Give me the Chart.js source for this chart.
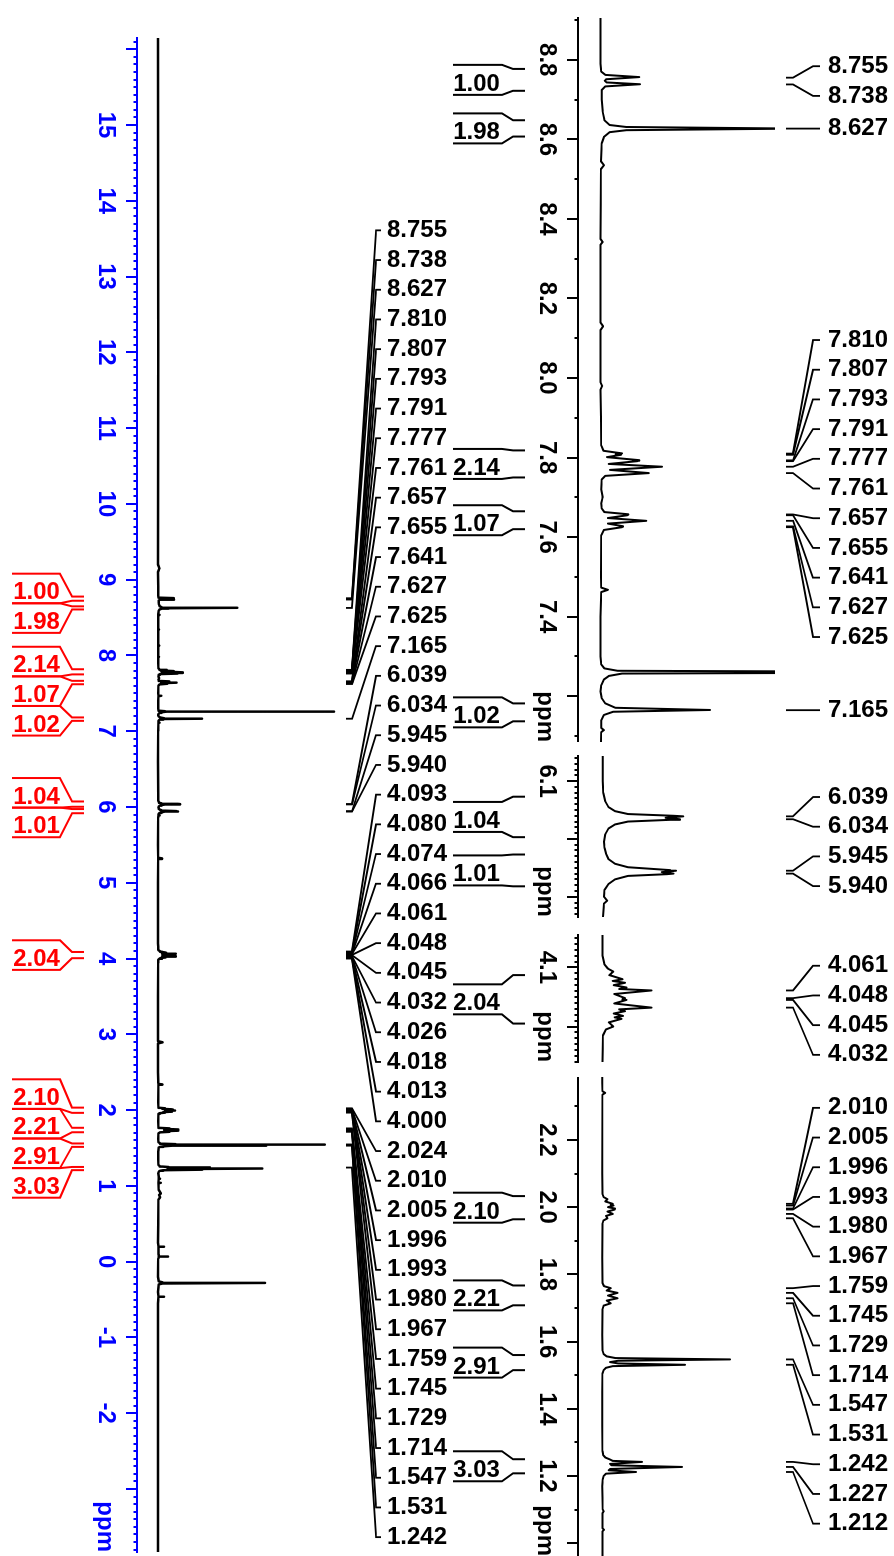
<!DOCTYPE html>
<html>
<head>
<meta charset="UTF-8">
<title>1H NMR spectrum</title>
<script src="https://cdn.jsdelivr.net/npm/chart.js@4/dist/chart.umd.min.js"></script>
<style>
  html, body { margin: 0; padding: 0; overflow: hidden; background: #fff; }
  /* the plot is laid out like a normal NMR page (ppm left->right) and turned 90deg clockwise */
  #stage {
    position: absolute; left: 0; top: 0; width: 1556px; height: 894px;
    transform-origin: 0 0; transform: translate(894px, 0) rotate(90deg);
  }
  #stage canvas { position: absolute; top: 0; }
</style>
</head>
<body>
<div id="stage">
  <canvas id="full" width="1556" height="894" style="left:0px"></canvas>
  <canvas id="zoomA" width="728" height="445" style="left:14px"></canvas>
  <canvas id="zoomB" width="168" height="445" style="left:752px"></canvas>
  <canvas id="zoomC" width="136" height="445" style="left:932px"></canvas>
  <canvas id="zoomD" width="479" height="445" style="left:1077px"></canvas>
</div>
<script>
// trace points [shift (ppm), intensity], residual CHCl3 at 7.26 = 100
var spectrum = [
  [16.148, 0], [12.0, 0.1], [9.2, 0], [9.15, 0.8], [9.1, 0],
  [8.905, 0.1], [8.79, 0.1], [8.770, 0.3], [8.762, 1.2], [8.7565, 8.9], [8.751, 1.4], [8.747, 1.1],
  [8.743, 1.5], [8.7385, 9.1], [8.733, 1.2], [8.724, 0.4], [8.70, 0.4], [8.67, 0.6], [8.648, 1.0],
  [8.636, 2.2], [8.631, 6], [8.627, 45], [8.623, 6], [8.618, 2.2], [8.606, 0.9], [8.59, 0.4],
  [8.545, 0.2], [8.535, 0.9], [8.525, 0.2], [8.35, 0.1], [8.342, 0.6], [8.335, 0.1],
  [8.14, 0.1], [8.13, 0.7], [8.12, 0.1], [7.99, 0.1], [7.98, 0.5], [7.97, 0.1],
  [7.90, 0.2], [7.83, 0.3], [7.817, 0.8], [7.8105, 5.0], [7.8085, 3.6], [7.807, 4.8], [7.801, 1.6],
  [7.7935, 8.9], [7.792, 7.8], [7.791, 8.5], [7.784, 2.0], [7.777, 14.1], [7.769, 2.3], [7.761, 11.1],
  [7.754, 1.2], [7.745, 0.4], [7.72, 0.3], [7.70, 0.6], [7.685, 0.3], [7.672, 0.4], [7.663, 1.0],
  [7.6575, 6.4], [7.6562, 5.6], [7.655, 6.2], [7.648, 1.8], [7.641, 10.5], [7.634, 1.8], [7.6275, 5.2],
  [7.6262, 4.6], [7.625, 5.0], [7.618, 0.9], [7.605, 0.3], [7.50, 0.2], [7.473, 0.3], [7.4675, 1.8],
  [7.462, 0.3], [7.40, 0.1], [7.30, 0.1], [7.28, 0.3], [7.27, 1.0], [7.264, 4.0], [7.2605, 100],
  [7.257, 5.0], [7.251, 2.0], [7.242, 0.9], [7.228, 0.3], [7.212, 0.1], [7.195, 0.4], [7.182, 1.2],
  [7.171, 3.5], [7.1655, 25], [7.161, 3.0], [7.153, 0.9], [7.14, 0.3], [7.12, 0.3], [7.115, 0.9],
  [7.11, 0.3], [7.00, 0.1], [6.60, 0],
  [6.1436, 0.1], [6.10, 0.1], [6.08, 0.2], [6.065, 0.5], [6.055, 1.0], [6.048, 2.0], [6.043, 4.0],
  [6.040, 11.0], [6.039, 12.5], [6.0365, 9.8], [6.034, 12.0], [6.033, 10.5], [6.030, 4.0], [6.025, 2.0],
  [6.018, 1.0], [6.008, 0.5], [5.995, 0.3], [5.985, 0.4], [5.975, 0.6], [5.965, 1.0], [5.957, 2.0],
  [5.951, 4.0], [5.946, 10.5], [5.945, 11.4], [5.9425, 9.2], [5.940, 11.0], [5.939, 10.0], [5.936, 4.0],
  [5.930, 2.0], [5.922, 1.0], [5.912, 0.4], [5.90, 0.3], [5.893, 0.8], [5.888, 0.3], [5.86, 0.1],
  [5.50, 0], [5.33, 0.2], [5.322, 2.3], [5.314, 0.2], [5.0, 0],
  [4.20, 0], [4.155, 0.1], [4.12, 0.1], [4.105, 0.5], [4.098, 1.2], [4.093, 2.3], [4.087, 1.5],
  [4.080, 4.2], [4.077, 2.2], [4.074, 4.7], [4.070, 2.4], [4.066, 5.0], [4.0635, 3.5], [4.061, 10.1],
  [4.055, 2.5], [4.048, 4.7], [4.0465, 4.2], [4.045, 5.0], [4.039, 2.5], [4.032, 10.1], [4.029, 3.5],
  [4.026, 4.7], [4.022, 2.4], [4.018, 4.3], [4.0155, 2.6], [4.013, 4.0], [4.007, 1.4], [4.000, 2.3],
  [3.995, 0.8], [3.985, 0.2], [3.94, 0.1],
  [3.50, 0], [2.91, 0], [2.895, 2.6], [2.88, 0], [2.50, 0],
  [2.3874, 0.1], [2.37, 0.1], [2.345, 0.3], [2.34, 2.4], [2.335, 0.3], [2.10, 0.1], [2.04, 0.3],
  [2.030, 1.2], [2.024, 4.0], [2.017, 2.5], [2.010, 8.0], [2.0075, 6.5], [2.005, 8.5], [2.000, 4.5],
  [1.996, 9.6], [1.9945, 8.8], [1.993, 9.4], [1.987, 4.0], [1.980, 8.0], [1.974, 3.0], [1.967, 4.0],
  [1.960, 1.0], [1.950, 0.3], [1.85, 0.1], [1.775, 0.3], [1.765, 1.5], [1.759, 6.5], [1.752, 3.5],
  [1.745, 11.5], [1.737, 4.5], [1.729, 11.5], [1.722, 3.5], [1.714, 6.5], [1.707, 1.2], [1.695, 0.3],
  [1.62, 0.2], [1.575, 0.3], [1.563, 1.2], [1.556, 3.5], [1.551, 10], [1.547, 94.8], [1.543, 12],
  [1.539, 6], [1.535, 12], [1.531, 61.5], [1.527, 8], [1.522, 3], [1.515, 1.2], [1.505, 0.4],
  [1.45, 0.2], [1.35, 0.2], [1.275, 0.3], [1.262, 1.0], [1.255, 2.5], [1.249, 6], [1.245, 8],
  [1.242, 29.6], [1.236, 6], [1.232, 7], [1.227, 59.3], [1.221, 6], [1.217, 5], [1.212, 25.2],
  [1.207, 3], [1.200, 1.2], [1.19, 0.5], [1.17, 0.2], [1.10, 0.6], [1.095, 1.2], [1.09, 0.4],
  [1.045, 0.3], [1.04, 1.5], [1.035, 0.3], [0.95, 0.4], [0.90, 1.6], [0.88, 0.6], [0.85, 1.2],
  [0.82, 0.3], [0.50, 0.1],
  [0.25, 0], [0.205, 0.3], [0.20, 3.4], [0.195, 0.3], [0.10, 0.3], [0.075, 0.6], [0.07, 5.7],
  [0.065, 0.6], [0.04, 0.2], [-0.20, 0], [-0.26, 0.4], [-0.272, 2.5], [-0.28, 60.8], [-0.288, 2.5],
  [-0.30, 0.4], [-0.40, 0], [-0.455, 0.3], [-0.46, 3.4], [-0.465, 0.3], [-0.55, 0], [-3.831, 0]
];

// peak picking, full spectrum (middle column)
var peakLabels = [8.755, 8.738, 8.627, 7.810, 7.807, 7.793, 7.791, 7.777, 7.761, 7.657, 7.655,
  7.641, 7.627, 7.625, 7.165, 6.039, 6.034, 5.945, 5.940, 4.093, 4.080, 4.074, 4.066, 4.061,
  4.048, 4.045, 4.032, 4.026, 4.018, 4.013, 4.000, 2.024, 2.010, 2.005, 1.996, 1.993, 1.980,
  1.967, 1.759, 1.745, 1.729, 1.714, 1.547, 1.531, 1.242];

// peak picking of the expansions (right column)
var peaksA = [8.755, 8.738, 8.627, 7.810, 7.807, 7.793, 7.791, 7.777, 7.761, 7.657, 7.655,
  7.641, 7.627, 7.625, 7.165];
var peaksB = [6.039, 6.034, 5.945, 5.940];
var peaksC = [4.061, 4.048, 4.045, 4.032];
var peaksD = [2.010, 2.005, 1.996, 1.993, 1.980, 1.967, 1.759, 1.745, 1.729, 1.714, 1.547,
  1.531, 1.242, 1.227, 1.212];

// integrals
var integralValues = ['1.00', '1.98', '2.14', '1.07', '1.02', '1.04', '1.01', '2.04', '2.10', '2.21', '2.91', '3.03'];
var integralFrom = [8.777, 8.648, 7.818, 7.665, 7.182, 6.073, 5.973, 4.087, 2.033, 1.767, 1.560, 1.250];
var integralTo = [8.722, 8.607, 7.750, 7.620, 7.137, 6.003, 5.918, 4.005, 1.964, 1.708, 1.515, 1.208];

// tick labels
var fullTicks = ['15', '14', '13', '12', '11', '10', '9', '8', '7', '6', '5', '4', '3', '2', '1', '0', '-1', '-2'];
var ticksA = ['8.8', '8.6', '8.4', '8.2', '8.0', '7.8', '7.6', '7.4'];
var ticksB = ['6.1'];
var ticksC = ['4.1'];
var ticksD = ['2.2', '2.0', '1.8', '1.6', '1.4', '1.2'];

var FAMILY = '"Liberation Sans", Arial, Helvetica, sans-serif';
var FONT = 'bold 24px ' + FAMILY;
var BLUE = '#0000ff', RED = '#ff0000', BLACK = '#000000';

function isMajor(v, step) {
  var q = v / step;
  return Math.abs(q - Math.round(q)) < 1e-6;
}

// push overlapping labels apart, keep them inside [lo, hi]
function spread(centers, size, lo, hi) {
  var groups = centers.map(function (c) { return { n: 1, sum: c }; });
  function start(g) {
    var s = g.sum / g.n - g.n * size / 2;
    return Math.max(lo, Math.min(s, hi - g.n * size));
  }
  var merged = true;
  while (merged) {
    merged = false;
    for (var i = 0; i < groups.length - 1; i++) {
      var a = groups[i], b = groups[i + 1];
      if (start(a) + a.n * size > start(b) + 1e-6) {
        groups.splice(i, 2, { n: a.n + b.n, sum: a.sum + b.sum });
        merged = true;
        break;
      }
    }
  }
  var out = [];
  groups.forEach(function (g) {
    var s = start(g);
    for (var k = 0; k < g.n; k++) out.push(s + size * (k + 0.5));
  });
  return out;
}

function upText(ctx, s, x, y, align, baseline) {
  ctx.save();
  ctx.translate(x, y);
  ctx.rotate(-Math.PI / 2);
  ctx.textAlign = align;
  ctx.textBaseline = baseline;
  ctx.fillText(s, 0, 0);
  ctx.restore();
}

function decorFor(cfg) {
  return {
    id: 'decor',
    afterDraw: function (chart) {
      var ctx = chart.ctx, xs = chart.scales.x, area = chart.chartArea;
      ctx.save();
      // minor ticks
      ctx.strokeStyle = cfg.axisColor;
      ctx.lineWidth = 2;
      xs.ticks.forEach(function (t) {
        if (isMajor(t.value, cfg.major)) return;
        var p = Math.round(xs.getPixelForValue(t.value));
        ctx.beginPath();
        ctx.moveTo(p, area.bottom);
        ctx.lineTo(p, area.bottom + 3.5);
        ctx.stroke();
      });
      ctx.font = FONT;
      ctx.fillStyle = cfg.axisColor;
      ctx.textAlign = 'right';
      ctx.textBaseline = 'alphabetic';
      ctx.fillText('ppm', area.right, cfg.unitY);

      // peak labels
      var pk = cfg.peaks.map(function (v) { return xs.getPixelForValue(v); });
      var at = spread(pk, cfg.gap, area.left + cfg.inset, area.right - cfg.inset);
      var g = cfg.link;
      ctx.strokeStyle = BLACK;
      ctx.fillStyle = BLACK;
      ctx.lineWidth = 1.8;
      pk.forEach(function (p, i) {
        ctx.beginPath();
        ctx.moveTo(p, g[0]);
        ctx.lineTo(p, g[1]);
        ctx.lineTo(at[i], g[2]);
        ctx.lineTo(at[i], g[3]);
        ctx.stroke();
        upText(ctx, cfg.peaks[i].toFixed(3), at[i], g[4], 'left', 'middle');
      });

      // integrals
      var idx = [];
      integralValues.forEach(function (v, i) {
        if (integralTo[i] >= xs.min && integralFrom[i] <= xs.max) idx.push(i);
      });
      var mids = idx.map(function (i) {
        return (xs.getPixelForValue(integralFrom[i]) + xs.getPixelForValue(integralTo[i])) / 2;
      });
      var boxes = spread(mids, cfg.boxH, area.left, area.right);
      var q = cfg.intGeo;
      ctx.strokeStyle = cfg.intColor;
      ctx.fillStyle = cfg.intColor;
      ctx.lineWidth = 2;
      idx.forEach(function (i, k) {
        var top = boxes[k] - cfg.boxH / 2, bot = boxes[k] + cfg.boxH / 2;
        var a = xs.getPixelForValue(integralFrom[i]), b = xs.getPixelForValue(integralTo[i]);
        ctx.beginPath();
        ctx.moveTo(top, q[0]); ctx.lineTo(top, q[1]); ctx.lineTo(a, q[2]); ctx.lineTo(a, q[3]);
        ctx.moveTo(bot, q[0]); ctx.lineTo(bot, q[1]); ctx.lineTo(b, q[2]); ctx.lineTo(b, q[3]);
        ctx.stroke();
        upText(ctx, integralValues[i], bot - 4, q[4], 'center', 'alphabetic');
      });
      ctx.restore();
    }
  };
}

function makeChart(id, cfg) {
  var canvas = document.getElementById(id);
  var h = canvas.height;
  return new Chart(canvas, {
    type: 'scatter',
    data: {
      datasets: [{
        data: spectrum.map(function (p) { return { x: p[0], y: p[1] }; }),
        showLine: true,
        borderColor: BLACK,
        borderWidth: cfg.lineW,
        borderJoinStyle: 'round',
        borderCapStyle: 'round',
        pointRadius: 0,
        tension: 0
      }]
    },
    options: {
      responsive: false,
      animation: false,
      devicePixelRatio: 1,
      events: [],
      layout: { padding: { left: cfg.padLeft, right: cfg.padRight, top: cfg.plotTop, bottom: 0 } },
      plugins: { legend: { display: false }, tooltip: { enabled: false } },
      scales: {
        x: {
          type: 'linear',
          reverse: true,
          min: cfg.low,
          max: cfg.high,
          afterFit: function (s) { s.height = h - cfg.axisY; },
          border: { display: true, color: cfg.axisColor, width: 2 },
          grid: {
            display: true,
            drawOnChartArea: false,
            drawTicks: true,
            tickLength: 11,
            lineWidth: 2,
            tickWidth: 2,
            tickColor: function (c) {
              return c.tick && isMajor(c.tick.value, cfg.major) ? cfg.axisColor : 'rgba(0,0,0,0)';
            }
          },
          ticks: {
            stepSize: cfg.minor,
            autoSkip: false,
            includeBounds: false,
            maxRotation: 0,
            minRotation: 0,
            padding: 6,
            color: cfg.axisColor,
            font: { family: FAMILY, size: 24, weight: 'bold' },
            callback: function (v) {
              if (!isMajor(v, cfg.major)) return '';
              var s = cfg.fmt(v);
              return cfg.tickLabels.indexOf(s) >= 0 ? s : '';
            }
          }
        },
        y: {
          display: false,
          min: -(cfg.axisY - cfg.baseY) / cfg.gain,
          max: (cfg.baseY - cfg.plotTop) / cfg.gain
        }
      }
    },
    plugins: [decorFor(cfg)]
  });
}

var fmtInt = function (v) { return String(Math.round(v)); };
var fmtOne = function (v) { return v.toFixed(1); };

function zoomPanel(low, high, major, minor, gain, baseY, tickLabels, peaks) {
  return {
    low: low, high: high, major: major, minor: minor, gain: gain, baseY: baseY,
    tickLabels: tickLabels, peaks: peaks, fmt: fmtOne,
    padLeft: 0, padRight: 0, plotTop: 119, axisY: 316, axisColor: BLACK, lineW: 2,
    unitY: 356, gap: 29.7, inset: 16, link: [108, 101, 81, 74, 66],
    intColor: BLACK, boxH: 30, intGeo: [441, 392, 381, 369, 417.5]
  };
}

makeChart('full', {
  low: -3.831, high: 16.148, major: 1, minor: 0.1, gain: 1.76, baseY: 736,
  tickLabels: fullTicks, peaks: peakLabels, fmt: fmtInt,
  padLeft: 38, padRight: 4, plotTop: 0, axisY: 757, axisColor: BLUE, lineW: 2.5,
  unitY: 796, gap: 29.7, inset: 0, link: [548, 542, 518, 513, 507],
  intColor: RED, boxH: 29.6, intGeo: [882, 834, 822, 810, 857.5]
});
makeChart('zoomA', zoomPanel(7.085, 8.905, 0.2, 0.1, 4.4, 294, ticksA, peaksA));
makeChart('zoomB', zoomPanel(5.865, 6.1436, 0.1, 0.01, 6.5, 292, ticksB, peaksB));
makeChart('zoomC', zoomPanel(3.94, 4.155, 0.1, 0.01, 4.9, 292, ticksC, peaksC));
makeChart('zoomD', zoomPanel(0.962, 2.3874, 0.2, 0.1, 1.35, 292, ticksD, peaksD));
</script>
</body>
</html>
